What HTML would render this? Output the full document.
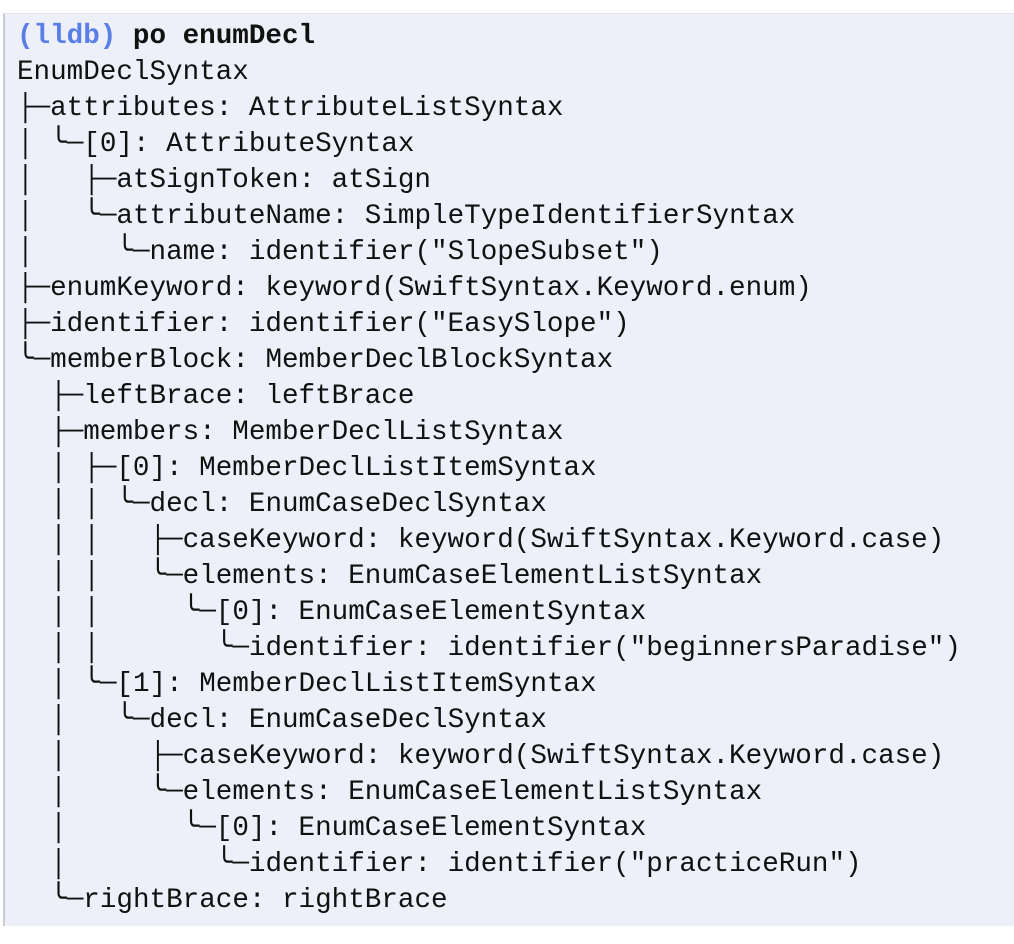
<!DOCTYPE html>
<html><head><meta charset="utf-8"><style>
html,body{margin:0;padding:0;background:#fff;width:1014px;height:944px;overflow:hidden}
.box{position:absolute;left:3px;top:13px;width:1011px;height:912px;background:#edf0f9;border-left:2px solid #c9cbd1;border-top:1px solid #e3e5ea}
pre{position:absolute;left:17px;top:19px;margin:0;font-family:"Liberation Mono","DejaVu Sans Mono",monospace;font-size:27.6px;line-height:36px;color:#111}
.b{font-weight:bold}.blue{color:#5a7ee6;font-weight:bold}
</style></head><body>
<div class="box"></div>
<pre><span class="blue">(lldb)</span> <span class="b">po enumDecl</span>
EnumDeclSyntax
├─attributes: AttributeListSyntax
│ ╰─[0]: AttributeSyntax
│   ├─atSignToken: atSign
│   ╰─attributeName: SimpleTypeIdentifierSyntax
│     ╰─name: identifier("SlopeSubset")
├─enumKeyword: keyword(SwiftSyntax.Keyword.enum)
├─identifier: identifier("EasySlope")
╰─memberBlock: MemberDeclBlockSyntax
  ├─leftBrace: leftBrace
  ├─members: MemberDeclListSyntax
  │ ├─[0]: MemberDeclListItemSyntax
  │ │ ╰─decl: EnumCaseDeclSyntax
  │ │   ├─caseKeyword: keyword(SwiftSyntax.Keyword.case)
  │ │   ╰─elements: EnumCaseElementListSyntax
  │ │     ╰─[0]: EnumCaseElementSyntax
  │ │       ╰─identifier: identifier("beginnersParadise")
  │ ╰─[1]: MemberDeclListItemSyntax
  │   ╰─decl: EnumCaseDeclSyntax
  │     ├─caseKeyword: keyword(SwiftSyntax.Keyword.case)
  │     ╰─elements: EnumCaseElementListSyntax
  │       ╰─[0]: EnumCaseElementSyntax
  │         ╰─identifier: identifier("practiceRun")
  ╰─rightBrace: rightBrace</pre>
</body></html>
